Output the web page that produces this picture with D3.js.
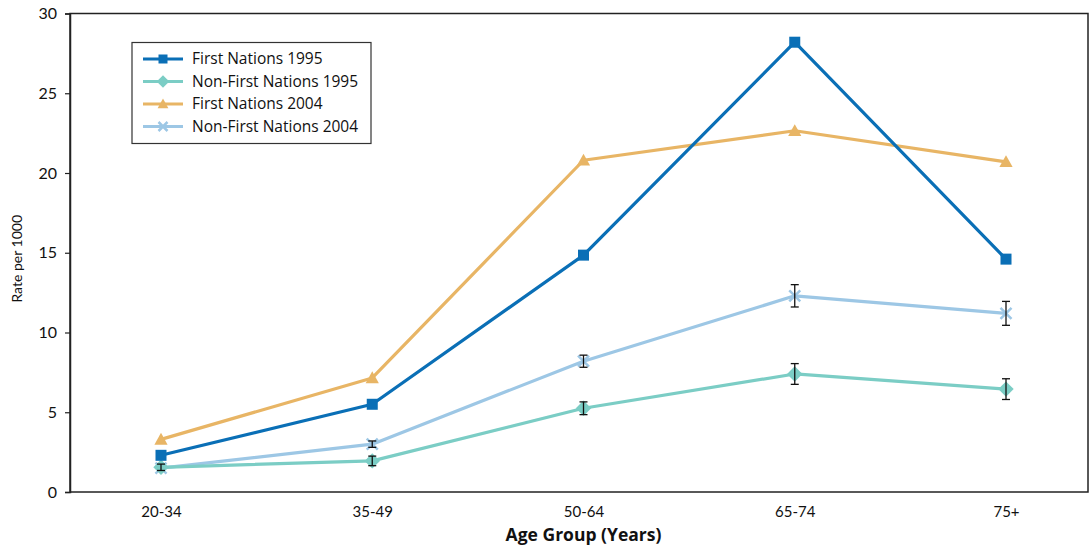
<!DOCTYPE html>
<html>
<head>
<meta charset="utf-8">
<script src="https://cdn.jsdelivr.net/npm/d3@7"></script>
<style>
  html, body { margin: 0; padding: 0; background: #fff; }
  svg { display: block; font-family: Lato, "Open Sans", sans-serif; }
</style>
</head>
<body>
<svg id="chart" width="1090" height="548"></svg>
<script>
// Age groups along the x axis
const ageGroups = ["20-34", "35-49", "50-64", "65-74", "75+"];
const yTicks = [0, 5, 10, 15, 20, 25, 30];

// Rates per 1000 by age group
const fn1995 = [2.3, 5.5, 14.85, 28.2, 14.6];
const nonFn1995 = [1.55, 1.95, 5.25, 7.4, 6.45];
const fn2004 = [3.3, 7.15, 20.8, 22.65, 20.7];
const nonFn2004 = [1.5, 3.0, 8.2, 12.3, 11.2];

// Half-widths of the confidence intervals
const nonFn1995Err = [0.2, 0.3, 0.4, 0.65, 0.65];
const nonFn2004Err = [0.15, 0.2, 0.38, 0.7, 0.75];

const seriesNames = ["First Nations 1995", "Non-First Nations 1995", "First Nations 2004", "Non-First Nations 2004"];

const series = [
  { name: seriesNames[0], values: fn1995, color: "#0a6fb6", marker: "square", err: null },
  { name: seriesNames[1], values: nonFn1995, color: "#7bcdc5", marker: "diamond", err: nonFn1995Err },
  { name: seriesNames[2], values: fn2004, color: "#e8b565", marker: "triangle", err: null },
  { name: seriesNames[3], values: nonFn2004, color: "#9dc7e5", marker: "cross", err: nonFn2004Err }
];

const svg = d3.select("#chart");
const plotLeft = 70, plotRight = 1088, plotTop = 13.5, plotBottom = 492;

const x = d3.scalePoint().domain(ageGroups).range([161, 1006]);
const y = d3.scaleLinear().domain([0, 30]).range([plotBottom, plotTop]);

// Plot frame
svg.append("rect")
  .attr("x", plotLeft).attr("y", plotTop)
  .attr("width", plotRight - plotLeft).attr("height", plotBottom - plotTop)
  .attr("fill", "none").attr("stroke", "#222").attr("stroke-width", 1.5);

// Y axis
const yAxis = svg.append("g")
  .attr("transform", `translate(${plotLeft},0)`)
  .call(d3.axisLeft(y).tickValues(yTicks).tickSize(5).tickPadding(8));
yAxis.select(".domain").attr("stroke", "#222").attr("stroke-width", 1.5);
yAxis.selectAll(".tick line").attr("stroke", "#222").attr("stroke-width", 1.2);
yAxis.selectAll(".tick text").attr("font-size", 16).attr("fill", "#111")
  .attr("font-family", "Lato, sans-serif");

// X axis (labels only)
const xAxis = svg.append("g")
  .attr("transform", `translate(0,${plotBottom})`)
  .call(d3.axisBottom(x).tickSize(0).tickPadding(14));
xAxis.select(".domain").remove();
xAxis.selectAll(".tick text").attr("font-size", 15).attr("fill", "#111")
  .attr("font-family", "Lato, sans-serif");

// Axis titles
svg.append("text")
  .attr("transform", `translate(22,${(plotTop + plotBottom) / 2 + 6}) rotate(-90)`)
  .attr("text-anchor", "middle")
  .attr("font-size", 14).attr("fill", "#111")
  .text("Rate per 1000");

svg.append("text")
  .attr("x", (x(ageGroups[0]) + x(ageGroups[4])) / 2).attr("y", 541)
  .attr("text-anchor", "middle")
  .attr("font-family", "'Open Sans', sans-serif")
  .attr("font-size", 17.5).attr("font-weight", "bold").attr("fill", "#111")
  .text("Age Group (Years)");

// Marker drawing helper
function drawMarker(g, type, cx, cy, color, s) {
  if (type === "square") {
    g.append("rect").attr("x", cx - s / 2).attr("y", cy - s / 2)
      .attr("width", s).attr("height", s).attr("fill", color);
  } else if (type === "diamond") {
    const r = s * 0.7;
    g.append("path").attr("d", `M${cx},${cy - r}L${cx + r},${cy}L${cx},${cy + r}L${cx - r},${cy}Z`)
      .attr("fill", color);
  } else if (type === "triangle") {
    const r = s * 0.6;
    g.append("path").attr("d", `M${cx},${cy - r}L${cx + r},${cy + r * 0.8}L${cx - r},${cy + r * 0.8}Z`)
      .attr("fill", color);
  } else if (type === "cross") {
    const r = s * 0.5;
    g.append("path").attr("d", `M${cx - r},${cy - r}L${cx + r},${cy + r}M${cx - r},${cy + r}L${cx + r},${cy - r}`)
      .attr("stroke", color).attr("stroke-width", 2.5).attr("fill", "none");
  }
}

const line = d3.line()
  .x((d, i) => x(ageGroups[i]))
  .y(d => y(d));

// Draw in order so the darker lines sit on top
const drawOrder = [3, 1, 2, 0];
drawOrder.forEach(k => {
  const s = series[k];
  const g = svg.append("g");
  g.append("path").datum(s.values)
    .attr("d", line)
    .attr("fill", "none")
    .attr("stroke", s.color)
    .attr("stroke-width", 3.2)
    .attr("stroke-linejoin", "round");
  s.values.forEach((v, i) => {
    drawMarker(g, s.marker, x(ageGroups[i]), y(v), s.color, 11);
  });
  if (s.err) {
    s.values.forEach((v, i) => {
      const cx = x(ageGroups[i]);
      const y1 = y(v + s.err[i]), y0 = y(v - s.err[i]);
      const eg = g.append("g").attr("stroke", "#111").attr("stroke-width", 1.3);
      eg.append("line").attr("x1", cx).attr("x2", cx).attr("y1", y1).attr("y2", y0);
      eg.append("line").attr("x1", cx - 4).attr("x2", cx + 4).attr("y1", y1).attr("y2", y1);
      eg.append("line").attr("x1", cx - 4).attr("x2", cx + 4).attr("y1", y0).attr("y2", y0);
    });
  }
});

// Legend
const legend = svg.append("g");
legend.append("rect")
  .attr("x", 132).attr("y", 42.5).attr("width", 239).attr("height", 101)
  .attr("fill", "#fff").attr("stroke", "#333").attr("stroke-width", 1.2);
series.forEach((s, i) => {
  const ly = 59 + i * 22.5;
  legend.append("line")
    .attr("x1", 143).attr("x2", 183).attr("y1", ly).attr("y2", ly)
    .attr("stroke", s.color).attr("stroke-width", 3);
  drawMarker(legend, s.marker, 163, ly, s.color, 9);
  legend.append("text")
    .attr("x", 192).attr("y", ly + 5)
    .attr("font-family", "'Open Sans', sans-serif")
    .attr("font-size", 15.5).attr("fill", "#111")
    .text(s.name);
});
</script>
</body>
</html>
